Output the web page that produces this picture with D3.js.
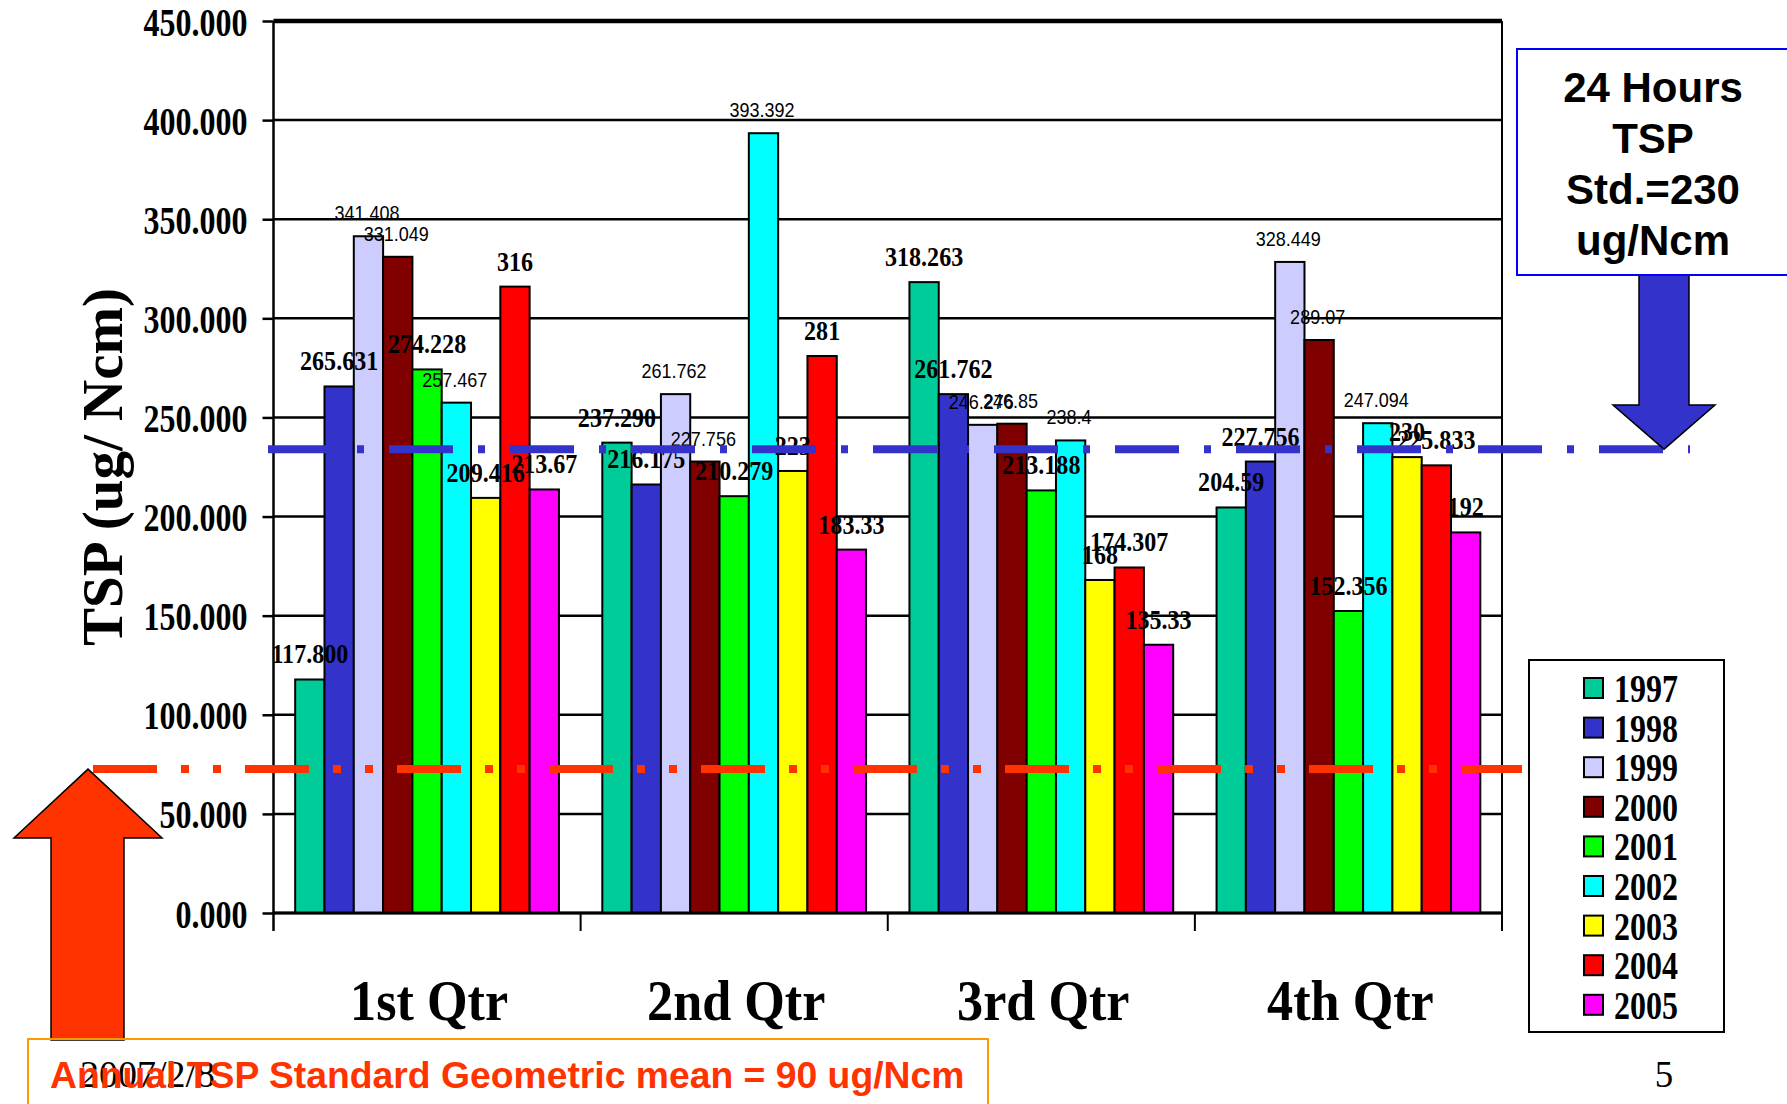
<!DOCTYPE html>
<html>
<head>
<meta charset="utf-8">
<script src="https://cdn.jsdelivr.net/npm/d3@7"></script>
<style>
body { margin: 0; background: #fff; }
svg { display: block; }
</style>
</head>
<body>
<div id="chart-area"></div>
<script>
// quarters on the x axis, one series per year
var quarters = ["1st Qtr", "2nd Qtr", "3rd Qtr", "4th Qtr"];
var years = ["1997", "1998", "1999", "2000", "2001", "2002", "2003", "2004", "2005"];

// values per year (as printed on the slide), Q1..Q4
var v1997 = ["117.800", "237.290", "318.263", "204.59"];
var v1998 = ["265.631", "216.175", "261.762", "227.756"];
var v1999 = ["341.408", "261.762", "246.276", "328.449"];
var v2000 = ["331.049", "227.756", "246.85", "289.07"];
var v2001 = ["274.228", "210.279", "213.188", "152.356"];
var v2002 = ["257.467", "393.392", "238.4", "247.094"];
var v2003 = ["209.416", "223", "168", "230"];
var v2004 = ["316", "281", "174.307", "225.833"];
var v2005 = ["213.67", "183.33", "135.33", "192"];
var seriesValues = [v1997, v1998, v1999, v2000, v2001, v2002, v2003, v2004, v2005];

var yearColors = ["#00CC99", "#3333CC", "#CCCCFF", "#800000", "#00FF00",
                  "#00FFFF", "#FFFF00", "#FF0000", "#FF00FF"];
// these series have small sans labels, the rest bold serif
var smallLabelYears = ["1999", "2000", "2002"];

var yTicks = [0, 50, 100, 150, 200, 250, 300, 350, 400, 450];

// standard lines as drawn on the slide
var dailyStdLevel = 234;
var annualStdLevel = 72.6;

var W = 1787, H = 1104;
var plot = { left: 273.5, right: 1502, top: 21, bottom: 913 };

var svg = d3.select("#chart-area")
    .append("svg")
    .attr("width", W)
    .attr("height", H)
    .style("background", "#fff");

var serif = "'Liberation Serif', 'Times New Roman', serif";
var sans = "'Liberation Sans', Arial, sans-serif";

// Scales
var y = d3.scaleLinear()
    .domain([0, 450])
    .range([plot.bottom, plot.top]);

var x0 = d3.scaleBand()
    .domain(quarters)
    .range([plot.left, plot.right])
    .padding(0);

var x1 = d3.scaleBand()
    .domain(years)
    .range([0, x0.bandwidth()])
    .paddingInner(0)
    .paddingOuter(0.74);

var color = d3.scaleOrdinal().domain(years).range(yearColors);

// helper: squeezed text like on the slide
function squeezed(sel, x, y, sx) {
    return sel.attr("transform", "translate(" + x + "," + y + ") scale(" + sx + ",1)");
}

// Gridlines
svg.append("g")
    .selectAll("line")
    .data(yTicks)
    .enter()
    .append("line")
    .attr("x1", plot.left)
    .attr("x2", plot.right)
    .attr("y1", function(d) { return y(d); })
    .attr("y2", function(d) { return y(d); })
    .attr("stroke", "#000")
    .attr("stroke-width", function(d) { return d === 450 ? 4.5 : 2.5; });

// right border of plot
svg.append("line")
    .attr("x1", plot.right).attr("x2", plot.right)
    .attr("y1", y(450)).attr("y2", plot.bottom + 18)
    .attr("stroke", "#000").attr("stroke-width", 2);

// Y Axis
var yAxisCall = d3.axisLeft(y)
    .tickValues(yTicks)
    .tickFormat(d3.format(".3f"))
    .tickSize(11);

var yAxisGroup = svg.append("g")
    .attr("transform", "translate(" + plot.left + ",0)")
    .call(yAxisCall);
yAxisGroup.select(".domain").remove();
yAxisGroup.selectAll(".tick line").attr("stroke", "#000").attr("stroke-width", 2.5);
yAxisGroup.selectAll(".tick text")
    .attr("font-family", serif)
    .attr("font-weight", "bold")
    .attr("font-size", 39)
    .attr("fill", "#000")
    .attr("dy", "0.36em")
    .attr("x", -26 / 0.82)
    .attr("transform", "scale(0.82,1)");

// left axis line
svg.append("line")
    .attr("x1", plot.left).attr("x2", plot.left)
    .attr("y1", y(450)).attr("y2", plot.bottom + 18)
    .attr("stroke", "#000").attr("stroke-width", 2.5);

// Y Label
svg.append("text")
    .attr("transform", "translate(122," + ((plot.top + plot.bottom) / 2) + ") rotate(-90)")
    .attr("text-anchor", "middle")
    .attr("font-family", serif)
    .attr("font-weight", "bold")
    .attr("font-size", 57)
    .text("TSP (ug/ Ncm)");

// Bars
var rows = quarters.map(function(q, qi) {
    return years.map(function(yr, yi) {
        return { quarter: q, year: yr, label: seriesValues[yi][qi], value: +seriesValues[yi][qi] };
    });
});
var allBars = d3.merge(rows);

svg.append("g")
    .selectAll("rect")
    .data(allBars)
    .enter()
    .append("rect")
    .attr("x", function(d) { return x0(d.quarter) + x1(d.year); })
    .attr("y", function(d) { return y(d.value); })
    .attr("width", x1.bandwidth())
    .attr("height", function(d) { return y(0) - y(d.value); })
    .attr("fill", function(d) { return color(d.year); })
    .attr("stroke", "#000")
    .attr("stroke-width", 2);

// bottom axis line over the bars
svg.append("line")
    .attr("x1", plot.left).attr("x2", plot.right)
    .attr("y1", y(0)).attr("y2", y(0))
    .attr("stroke", "#000").attr("stroke-width", 3);

// X Axis
var xAxisCall = d3.axisBottom(x0).tickSize(0);
var xAxisGroup = svg.append("g")
    .attr("transform", "translate(0," + plot.bottom + ")")
    .call(xAxisCall);
xAxisGroup.select(".domain").remove();
xAxisGroup.selectAll(".tick text")
    .attr("font-family", serif)
    .attr("font-weight", "bold")
    .attr("font-size", 58)
    .attr("fill", "#000")
    .attr("y", null)
    .attr("dy", null)
    .attr("transform", "translate(2,107) scale(0.9,1)");

// group boundary ticks
svg.append("g")
    .selectAll("line")
    .data(quarters)
    .enter()
    .append("line")
    .attr("x1", function(d) { return x0(d) + x0.bandwidth(); })
    .attr("x2", function(d) { return x0(d) + x0.bandwidth(); })
    .attr("y1", plot.bottom)
    .attr("y2", plot.bottom + 18)
    .attr("stroke", "#000").attr("stroke-width", 2);

// Value labels
svg.append("g")
    .selectAll("text")
    .data(allBars)
    .enter()
    .append("text")
    .attr("text-anchor", "middle")
    .attr("fill", "#000")
    .attr("font-family", function(d) { return smallLabelYears.indexOf(d.year) >= 0 ? sans : serif; })
    .attr("font-weight", function(d) { return smallLabelYears.indexOf(d.year) >= 0 ? "normal" : "bold"; })
    .attr("font-size", function(d) { return smallLabelYears.indexOf(d.year) >= 0 ? 20 : 28; })
    .each(function(d) {
        var small = smallLabelYears.indexOf(d.year) >= 0;
        squeezed(d3.select(this),
            x0(d.quarter) + x1(d.year) + x1.bandwidth() / 2 - (small ? 1.5 : 0),
            y(d.value) - 16,
            small ? 0.9 : 0.86);
    })
    .text(function(d) { return d.label; });

// 24h standard line (blue dash-dot)
svg.append("line")
    .attr("x1", 268).attr("x2", 1690)
    .attr("y1", y(dailyStdLevel)).attr("y2", y(dailyStdLevel))
    .attr("stroke", "#3333CC")
    .attr("stroke-width", 8)
    .attr("stroke-dasharray", "64 25 7 25");

// annual standard line (orange dash-dot-dot)
svg.append("line")
    .attr("x1", 93).attr("x2", 1522)
    .attr("y1", y(annualStdLevel)).attr("y2", y(annualStdLevel))
    .attr("stroke", "#FF3300")
    .attr("stroke-width", 8)
    .attr("stroke-dasharray", "64 24 8 24 8 24");

// blue arrow pointing down to the 24h line
var tipB = y(dailyStdLevel);
svg.append("path")
    .attr("d", "M1639,275 L1689,275 L1689,405 L1715,405 L1664," + tipB + " L1613,405 L1639,405 Z")
    .attr("fill", "#3333CC")
    .attr("stroke", "#000")
    .attr("stroke-width", 1.5);

// 24h box
svg.append("rect")
    .attr("x", 1517).attr("y", 49)
    .attr("width", 300).attr("height", 226)
    .attr("fill", "#fff")
    .attr("stroke", "#0000FF")
    .attr("stroke-width", 2);

var boxLines = ["24 Hours", "TSP", "Std.=230", "ug/Ncm"];
svg.append("g")
    .selectAll("text")
    .data(boxLines)
    .enter()
    .append("text")
    .attr("x", 1653)
    .attr("y", function(d, i) { return 102 + i * 51; })
    .attr("text-anchor", "middle")
    .attr("font-family", sans)
    .attr("font-weight", "bold")
    .attr("font-size", 42)
    .attr("fill", "#000")
    .text(function(d) { return d; });

// orange arrow pointing up to the annual line
var tipO = y(annualStdLevel);
svg.append("path")
    .attr("d", "M51,1040 L51,838 L14,838 L88," + tipO + " L162,838 L124,838 L124,1040 Z")
    .attr("fill", "#FF3300")
    .attr("stroke", "#000")
    .attr("stroke-width", 1.5);

// annual box
svg.append("rect")
    .attr("x", 28).attr("y", 1039)
    .attr("width", 960).attr("height", 80)
    .attr("fill", "none")
    .attr("stroke", "#FF9900")
    .attr("stroke-width", 2);

// slide footer date and page number
svg.append("text")
    .attr("x", 80).attr("y", 1087)
    .attr("font-family", serif)
    .attr("font-size", 38)
    .attr("fill", "#000")
    .text("2007/2/8");

svg.append("text")
    .attr("x", 1664).attr("y", 1087)
    .attr("text-anchor", "middle")
    .attr("font-family", serif)
    .attr("font-size", 37)
    .attr("fill", "#000")
    .text("5");

svg.append("text")
    .attr("x", 50).attr("y", 1088)
    .attr("font-family", sans)
    .attr("font-weight", "bold")
    .attr("font-size", 37.3)
    .attr("fill", "#FF3300")
    .text("Annual TSP Standard Geometric mean = 90 ug/Ncm");

// Legend
var legend = svg.append("g");
legend.append("rect")
    .attr("x", 1529).attr("y", 660)
    .attr("width", 195).attr("height", 372)
    .attr("fill", "#fff")
    .attr("stroke", "#000")
    .attr("stroke-width", 2);

var items = legend.selectAll("g.item")
    .data(years)
    .enter()
    .append("g")
    .attr("class", "item")
    .attr("transform", function(d, i) { return "translate(0," + (688 + i * 39.6) + ")"; });

items.append("rect")
    .attr("x", 1584).attr("y", -10)
    .attr("width", 19).attr("height", 20)
    .attr("fill", function(d) { return color(d); })
    .attr("stroke", "#000")
    .attr("stroke-width", 2);

items.append("text")
    .attr("font-family", serif)
    .attr("font-weight", "bold")
    .attr("font-size", 41)
    .attr("fill", "#000")
    .attr("transform", "translate(1614,14) scale(0.78,1)")
    .text(function(d) { return d; });
</script>
</body>
</html>
